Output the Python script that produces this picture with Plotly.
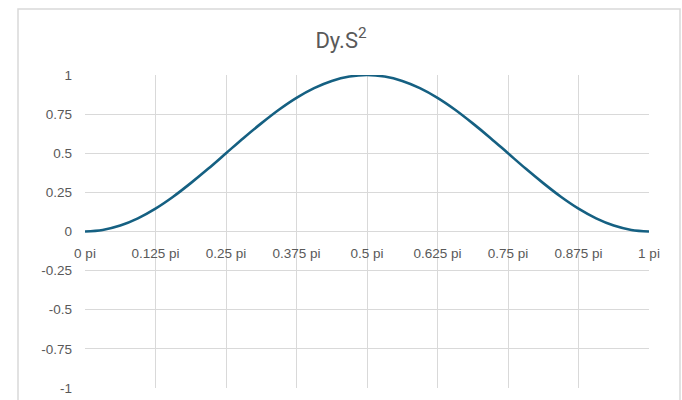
import plotly.graph_objects as go

# Angle, in multiples of pi
angle_pi = [0, 0.03125, 0.0625, 0.09375, 0.125, 0.15625, 0.1875, 0.21875,
            0.25, 0.28125, 0.3125, 0.34375, 0.375, 0.40625, 0.4375, 0.46875,
            0.5, 0.53125, 0.5625, 0.59375, 0.625, 0.65625, 0.6875, 0.71875,
            0.75, 0.78125, 0.8125, 0.84375, 0.875, 0.90625, 0.9375, 0.96875, 1]
# Dy.S^2 value at each angle
dy_s2 = [0, 0.010, 0.038, 0.084, 0.146, 0.222, 0.309, 0.402,
         0.5, 0.598, 0.691, 0.778, 0.854, 0.916, 0.962, 0.990,
         1, 0.990, 0.962, 0.916, 0.854, 0.778, 0.691, 0.598,
         0.5, 0.402, 0.309, 0.222, 0.146, 0.084, 0.038, 0.010, 0]

x_ticks = [0, 0.125, 0.25, 0.375, 0.5, 0.625, 0.75, 0.875, 1]
x_labels = ["0 pi", "0.125 pi", "0.25 pi", "0.375 pi", "0.5 pi",
            "0.625 pi", "0.75 pi", "0.875 pi", "1 pi"]
y_ticks = [1, 0.75, 0.5, 0.25, 0, -0.25, -0.5, -0.75, -1]
y_labels = ["1", "0.75", "0.5", "0.25", "0", "-0.25", "-0.5", "-0.75", "-1"]

GRID = "#d9d9d9"
TEXT = "#595959"
LABEL_FONT = dict(family="'Liberation Sans', Arial, sans-serif", size=13.5, color=TEXT)

fig = go.Figure()
fig.add_trace(go.Scatter(
    x=angle_pi, y=dy_s2, mode="lines",
    line=dict(color="#156082", width=2.6, shape="spline", smoothing=1.0),
    hoverinfo="skip", showlegend=False,
))

fig.update_layout(
    width=682, height=400,
    margin=dict(l=85, r=33, t=75, b=12, autoexpand=False),
    paper_bgcolor="white", plot_bgcolor="white",
    title=dict(
        text="Dy.S<sup>2</sup>", x=0.5, xanchor="center",
        y=1 - 40 / 400, yanchor="middle", yref="container",
        font=dict(family="Roboto, sans-serif", size=22, color=TEXT),
    ),
    xaxis=dict(
        range=[0, 1], tickvals=x_ticks, ticktext=x_labels,
        showgrid=True, gridcolor=GRID, gridwidth=1,
        zeroline=False, showline=False, ticks="",
        anchor="free", position=0.5, automargin=False,
        tickfont=LABEL_FONT, ticklabelstandoff=12,
        fixedrange=True,
    ),
    yaxis=dict(
        range=[-1, 1], tickvals=y_ticks, ticktext=y_labels,
        showgrid=True, gridcolor=GRID, gridwidth=1,
        zeroline=False, showline=False, ticks="",
        automargin=False,
        tickfont=LABEL_FONT, ticklabelstandoff=12,
        fixedrange=True,
    ),
    shapes=[dict(
        type="rect", xref="paper", yref="paper",
        x0=(18 - 85) / 564, x1=(680 - 85) / 564,
        y0=-0.2, y1=(388 - 9) / 313,
        line=dict(color="#d9d9d9", width=1.5),
        fillcolor="rgba(0,0,0,0)", layer="below",
    )],
)

fig.write_html("out.html")
